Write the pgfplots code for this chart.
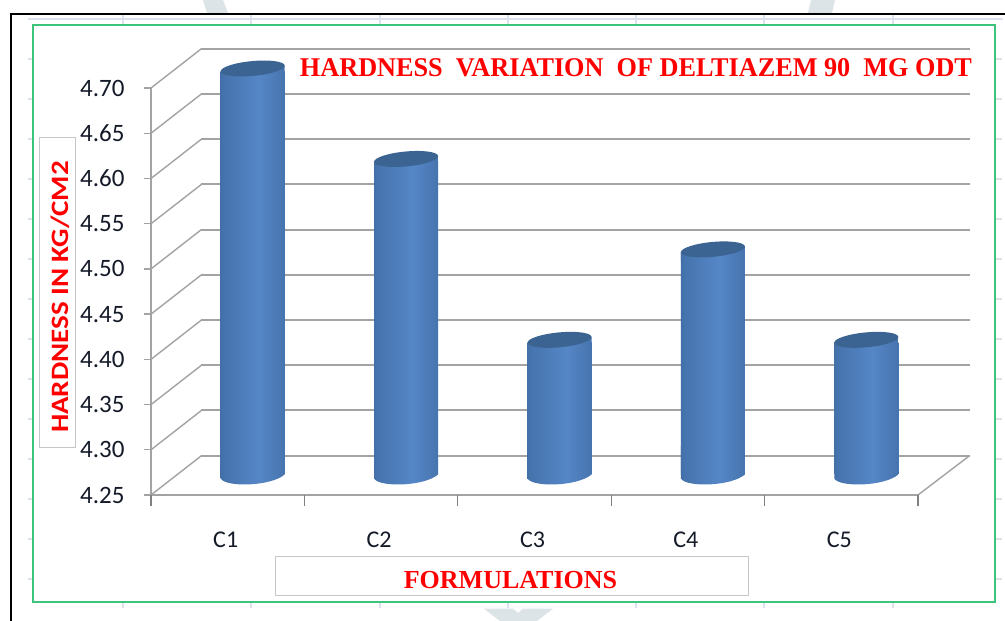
\documentclass[border=0pt]{standalone}
\usepackage{pgfplots}
\pgfplotsset{compat=1.18}
\usepackage{fontspec}
\setmainfont{Carlito}
\newfontfamily\serifb[BoldFont={Liberation Serif Bold}]{Liberation Serif}
\usetikzlibrary{shadings}
\definecolor{cylD}{HTML}{30527E}
\definecolor{cylM}{HTML}{4674AE}
\definecolor{cylL}{HTML}{5586C6}
\definecolor{cylT}{HTML}{3B6493}
\definecolor{gridG}{HTML}{A3A3A3}
\definecolor{frameG}{HTML}{3CC47C}
\definecolor{pale}{HTML}{DCE3EC}
\definecolor{wm}{HTML}{DDE4E8}
\definecolor{tickT}{HTML}{141A28}
\pgfdeclarehorizontalshading{cyl}{100bp}{color(0bp)=(cylD); color(8bp)=(cylD!80!cylM); color(28bp)=(cylM); color(55bp)=(cylL); color(75bp)=(cylM); color(92bp)=(cylD!80!cylM); color(100bp)=(cylD)}
% bottom of a cylinder: white under the curve, then a shaded slanted ellipse joined to a stub of the body
\pgfdeclareplotmark{cylbottom}{%
  \pgfsetfillcolor{white}%
  \pgfpathrectangle{\pgfqpoint{-33pt}{-12pt}}{\pgfqpoint{66pt}{14pt}}%
  \pgfusepath{fill}%
  \pgfpathmoveto{\pgfqpoint{-32pt}{-3pt}}%
  \pgfpathcurveto{\pgfqpoint{-27pt}{-12pt}}{\pgfqpoint{18pt}{-11pt}}{\pgfqpoint{32pt}{1pt}}%
  \pgfpathlineto{\pgfqpoint{32pt}{30pt}}%
  \pgfpathlineto{\pgfqpoint{-32pt}{30pt}}%
  \pgfpathclose
  \pgfshadepath{cyl}{0}\pgfusepath{discard}}
% top of a cylinder: a stub of the body, then a dark slanted ellipse
\pgfdeclareplotmark{cyltop}{%
  \pgfpathmoveto{\pgfqpoint{-32pt}{-3pt}}%
  \pgfpathlineto{\pgfqpoint{32pt}{3pt}}%
  \pgfpathlineto{\pgfqpoint{32pt}{-12pt}}%
  \pgfpathlineto{\pgfqpoint{-32pt}{-12pt}}%
  \pgfpathclose
  \pgfshadepath{cyl}{0}\pgfusepath{discard}%
  \pgfsetfillcolor{cylT}%
  \pgfpathellipse{\pgfpointorigin}{\pgfqpoint{32pt}{3pt}}{\pgfqpoint{-0.8pt}{7.4pt}}%
  \pgfusepath{fill}}
\begin{document}
\begin{tikzpicture}[x=1pt,y=-1pt]
\path[use as bounding box,fill=white] (0,0) rectangle (1005,621);
% page furniture behind the chart
\fill[wm] (203,0)--(223,0)--(228,13)--(207,13)--cycle;
\fill[wm] (811,0)--(835,0)--(832,13)--(808,13)--cycle;
\fill[wm] (484,608.7)--(513,608.7)--(518,613)--(523,608.7)--(553,608.7)--(537,621)--(500,621)--cycle;
\draw[pale,line width=1.6pt] (28,19)--(1003,19);
\foreach \xx in {123,251,380,508,636,764,893}{
  \draw[pale,line width=1.2pt] (\xx,14)--(\xx,24);
  \draw[pale,line width=1.2pt] (\xx,603)--(\xx,608);
}
\foreach \yy in {59,99,139,179,219,259,299,339,379,419,459,499,539,579}{
  \draw[pale,line width=1.2pt] (28,\yy)--(32,\yy);
  \draw[pale,line width=1.2pt] (996,\yy)--(1002,\yy);
}
\draw[black,line width=2pt] (11,621)--(11,13.5)--(1005,13.5);
\draw[frameG,line width=2pt] (33,24.5) rectangle (995,602);
\begin{axis}[
  at={(151pt,-495pt)},anchor=south west,
  scale only axis,width=767pt,height=407pt,
  xmin=-0.5,xmax=4.5,ymin=4.25,ymax=4.70,
  clip=false,
  axis x line=bottom,axis y line=left,
  axis line style={gridG,line width=1.6pt,-},
  tick align=outside,
  xtick={0,1,2,3,4},
  xticklabels={C1,C2,C3,C4,C5},
  ytick={4.25,4.30,4.35,4.40,4.45,4.50,4.55,4.60,4.65,4.70},
  yticklabel style={/pgf/number format/fixed,/pgf/number format/fixed zerofill,/pgf/number format/precision=2,/pgf/number format/assume math mode=true,font=\fontsize{25}{25}\selectfont,text=tickT,xshift=-16pt},
  xticklabel style={font=\fontsize{24}{24}\selectfont,text=tickT,yshift=-26pt,xshift=-2pt},
  major tick length=7pt,
  xtick style={draw=none},
  ytick style={gridG,line width=1.3pt},
]
% side wall and back wall grid lines
\addplot[gridG,line width=1.4pt] coordinates {(-0.5,4.25) (-0.171,4.2935)};
\addplot[gridG,line width=1.4pt] coordinates {(-0.5,4.30) (-0.171,4.3435)};
\addplot[gridG,line width=1.4pt] coordinates {(-0.5,4.35) (-0.171,4.3935)};
\addplot[gridG,line width=1.4pt] coordinates {(-0.5,4.40) (-0.171,4.4435)};
\addplot[gridG,line width=1.4pt] coordinates {(-0.5,4.45) (-0.171,4.4935)};
\addplot[gridG,line width=1.4pt] coordinates {(-0.5,4.50) (-0.171,4.5435)};
\addplot[gridG,line width=1.4pt] coordinates {(-0.5,4.55) (-0.171,4.5935)};
\addplot[gridG,line width=1.4pt] coordinates {(-0.5,4.60) (-0.171,4.6435)};
\addplot[gridG,line width=1.4pt] coordinates {(-0.5,4.65) (-0.171,4.6935)};
\addplot[gridG,line width=1.4pt] coordinates {(-0.5,4.70) (-0.171,4.7435)};
\addplot[gridG,line width=2.1pt] coordinates {(-0.171,4.2935) (4.836,4.2935)};
\addplot[gridG,line width=2.1pt] coordinates {(-0.171,4.3435) (4.836,4.3435)};
\addplot[gridG,line width=2.1pt] coordinates {(-0.171,4.3935) (4.836,4.3935)};
\addplot[gridG,line width=2.1pt] coordinates {(-0.171,4.4435) (4.836,4.4435)};
\addplot[gridG,line width=2.1pt] coordinates {(-0.171,4.4935) (4.836,4.4935)};
\addplot[gridG,line width=2.1pt] coordinates {(-0.171,4.5435) (4.836,4.5435)};
\addplot[gridG,line width=2.1pt] coordinates {(-0.171,4.5935) (4.836,4.5935)};
\addplot[gridG,line width=2.1pt] coordinates {(-0.171,4.6435) (4.836,4.6435)};
\addplot[gridG,line width=2.1pt] coordinates {(-0.171,4.6935) (4.836,4.6935)};
\addplot[gridG,line width=2.1pt] coordinates {(-0.171,4.7435) (4.836,4.7435)};
\addplot[gridG,line width=1.4pt] coordinates {(4.5,4.25) (4.836,4.2935)};
% x axis tick marks, between the categories
\addplot[gray,line width=1.3pt] coordinates {(-0.5,4.25) (-0.5,4.2378)};
\addplot[gray,line width=1.3pt] coordinates {(0.5,4.25) (0.5,4.2378)};
\addplot[gray,line width=1.3pt] coordinates {(1.5,4.25) (1.5,4.2378)};
\addplot[gray,line width=1.3pt] coordinates {(2.5,4.25) (2.5,4.2378)};
\addplot[gray,line width=1.3pt] coordinates {(3.5,4.25) (3.5,4.2378)};
\addplot[gray,line width=1.3pt] coordinates {(4.5,4.25) (4.5,4.2378)};
% cylinder bodies, one plot per bar so that each has its own shading
\addplot[ybar,bar width=64pt,bar shift=0pt,draw=none,shade,shading=cyl,xshift=25pt,yshift=16.5pt] coordinates {(0,4.70)};
\addplot[ybar,bar width=64pt,bar shift=0pt,draw=none,shade,shading=cyl,xshift=25pt,yshift=16.5pt] coordinates {(1,4.60)};
\addplot[ybar,bar width=64pt,bar shift=0pt,draw=none,shade,shading=cyl,xshift=25pt,yshift=16.5pt] coordinates {(2,4.40)};
\addplot[ybar,bar width=64pt,bar shift=0pt,draw=none,shade,shading=cyl,xshift=25pt,yshift=16.5pt] coordinates {(3,4.50)};
\addplot[ybar,bar width=64pt,bar shift=0pt,draw=none,shade,shading=cyl,xshift=25pt,yshift=16.5pt] coordinates {(4,4.40)};
% cylinder feet
\addplot[only marks,mark=cylbottom,xshift=25pt,yshift=19.5pt] coordinates {(0,4.25) (1,4.25) (2,4.25) (3,4.25) (4,4.25)};
% cylinder caps
\addplot[only marks,mark=cyltop,xshift=25pt,yshift=19.5pt] coordinates {(0,4.70) (1,4.60) (2,4.40) (3,4.50) (4,4.40)};
\end{axis}
% titles
\node[anchor=base,font=\serifb\bfseries\fontsize{23}{23}\selectfont,text=red] at (636,76) {\resizebox{672pt}{18pt}{HARDNESS\ \ VARIATION\ \ OF DELTIAZEM 90\ \ MG ODT}};
\draw[gray!45,line width=1pt,fill=white] (39,137) rectangle (75,447);
\node[rotate=90,font=\bfseries\fontsize{25}{25}\selectfont,text=red] at (60,297) {\scalebox{1.16}[1]{HARDNESS IN KG/CM2}};
\draw[gray!45,line width=1pt,fill=white] (275,556) rectangle (748.5,595.5);
\node[font=\serifb\bfseries\fontsize{26}{26}\selectfont,text=red] at (510.5,580) {FORMULATIONS};
\end{tikzpicture}
\end{document}
